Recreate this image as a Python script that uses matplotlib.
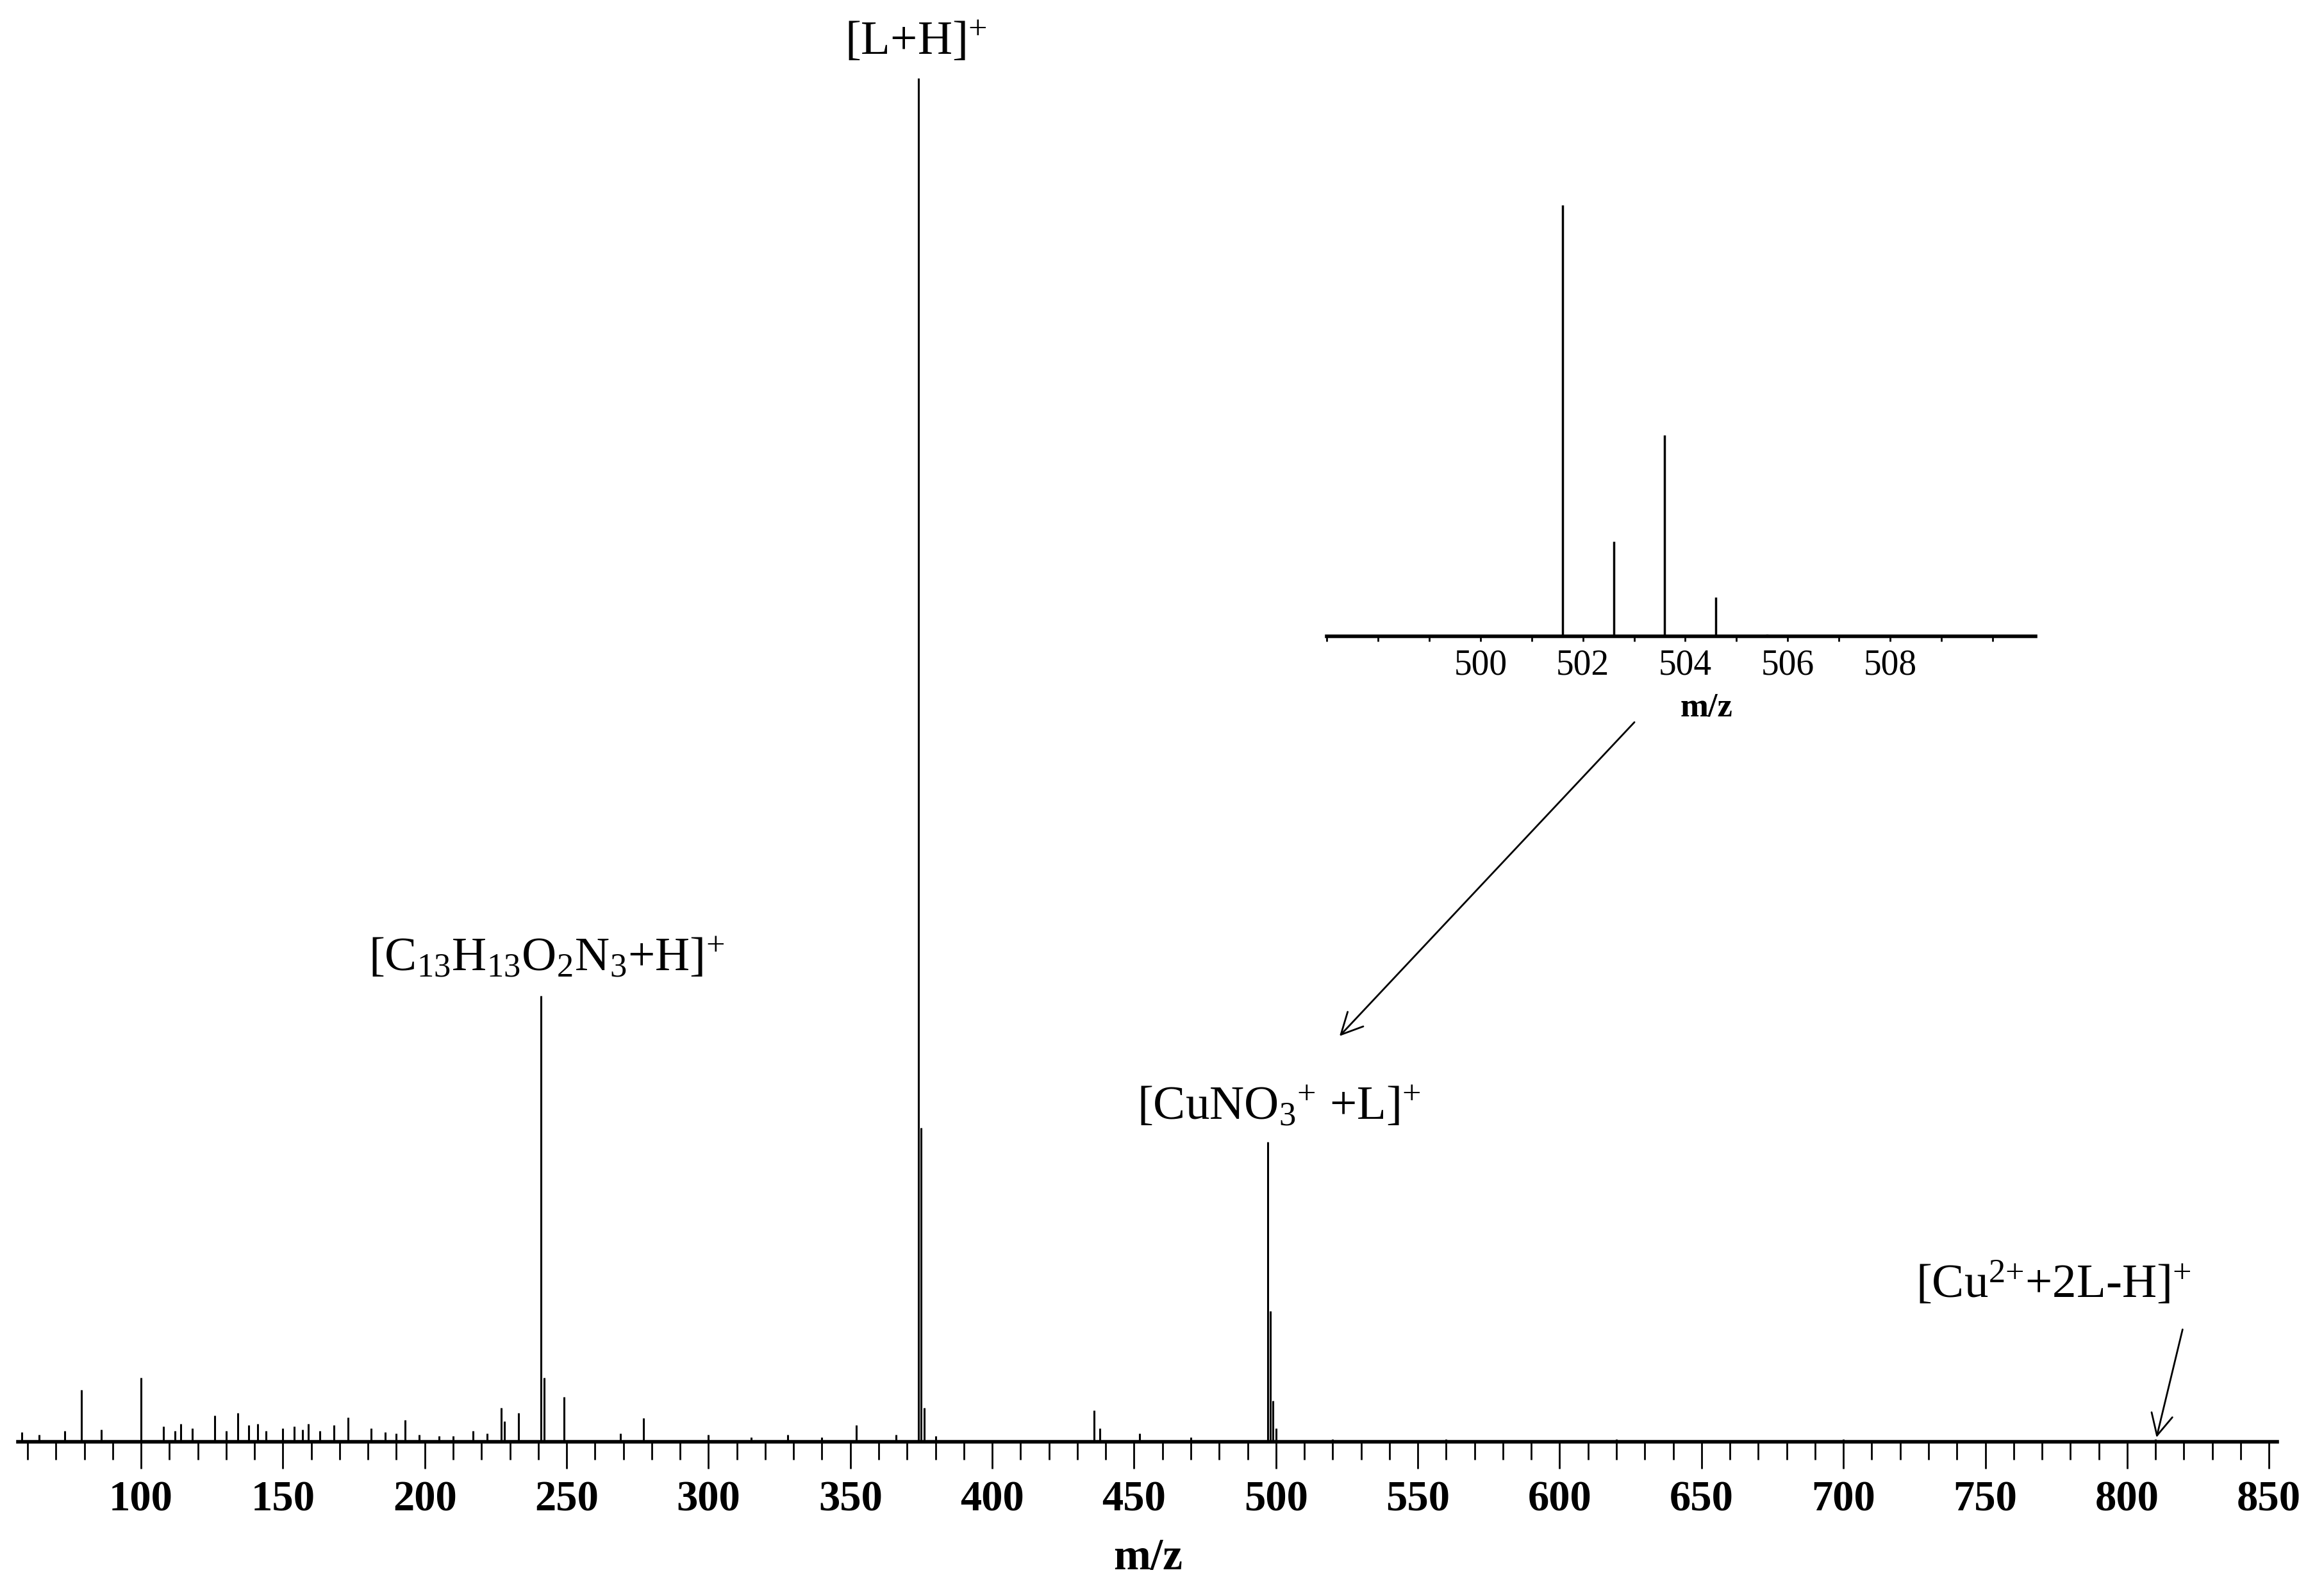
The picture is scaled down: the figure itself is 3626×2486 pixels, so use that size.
import matplotlib
matplotlib.use("Agg")
import matplotlib.pyplot as plt
from matplotlib.ticker import MultipleLocator

plt.rcParams["font.family"] = "Liberation Serif"
plt.rcParams["mathtext.fontset"] = "custom"
plt.rcParams["mathtext.rm"] = "Liberation Serif"
plt.rcParams["mathtext.it"] = "Liberation Serif"
plt.rcParams["mathtext.bf"] = "Liberation Serif:bold"

# main spectrum (m/z, relative intensity)
mz = [58, 64, 73, 79, 86, 100, 108, 112, 114, 118, 126, 130, 134, 138, 141, 144, 150, 154,
      157, 159, 163, 168, 173, 181, 186, 190, 193, 198, 205, 210, 217, 222, 227, 228, 233,
      241, 242, 249, 269, 277, 300, 315, 328, 340, 352, 366, 374, 375, 376, 380, 436, 438,
      452, 470, 497, 498, 499, 500, 520, 560, 620, 700, 810]
inten = [0.007, 0.005, 0.008, 0.038, 0.009, 0.047, 0.011, 0.008, 0.013, 0.010, 0.019, 0.008,
         0.021, 0.012, 0.013, 0.008, 0.010, 0.011, 0.009, 0.013, 0.008, 0.012, 0.018, 0.010,
         0.007, 0.006, 0.016, 0.005, 0.004, 0.004, 0.008, 0.006, 0.025, 0.015, 0.021,
         0.327, 0.047, 0.033, 0.006, 0.0175, 0.005, 0.003, 0.005, 0.003, 0.012, 0.005, 1.0,
         0.23, 0.025, 0.004, 0.023, 0.010, 0.006, 0.003, 0.22, 0.096, 0.03, 0.01, 0.002,
         0.002, 0.002, 0.002, 0.002]

# inset: isotope pattern
mz_in = [501.6, 502.6, 503.6, 504.6, 505.6]
int_in = [1.0, 0.22, 0.466, 0.09, 0.004]

fig = plt.figure(figsize=(36.26, 24.86), dpi=100)
ax = fig.add_axes([0.0077, 0.095, 0.9723, 0.856])
ax.vlines(mz, 0, inten, color="black", linewidth=2.2)
ax.set_xlim(56.6, 853)
ax.set_ylim(0, 1.0)
for s in ["top", "right", "left"]:
    ax.spines[s].set_visible(False)
ax.spines["bottom"].set_linewidth(4)
ax.set_yticks([])
ax.xaxis.set_major_locator(MultipleLocator(50))
ax.xaxis.set_minor_locator(MultipleLocator(10))
ax.tick_params(axis="x", which="major", direction="out", length=30, width=2, pad=14,
               labelsize=48)
ax.tick_params(axis="x", which="minor", direction="out", length=20, width=2)
ax.set_xticks(range(100, 851, 50))
for lab in ax.get_xticklabels():
    lab.set_fontweight("bold")
ax.set_xlabel("m/z", fontsize=50, fontweight="bold", labelpad=20)

fs = 54
ax.text(373, 1.01, r"[L+H]$^{+}$", ha="center", va="bottom", fontsize=fs, clip_on=False)
ax.text(243, 0.338, r"[C$_{13}$H$_{13}$O$_{2}$N$_{3}$+H]$^{+}$", ha="center", va="bottom",
        fontsize=fs)
ax.text(501, 0.229, r"[CuNO$_{3}$$^{+}$ +L]$^{+}$", ha="center", va="bottom", fontsize=fs)
ax.text(774, 0.098, r"[Cu$^{2{+}}$+2L-H]$^{+}$", ha="center", va="bottom", fontsize=fs)

# arrows
fig.add_artist(matplotlib.patches.FancyArrowPatch(
    (2552 / 3626, 1 - 1125 / 2486), (2088 / 3626, 1 - 1619 / 2486),
    transform=fig.transFigure, arrowstyle="->", mutation_scale=60, linewidth=2, color="black"))
fig.add_artist(matplotlib.patches.FancyArrowPatch(
    (3406 / 3626, 1 - 2072 / 2486), (3364 / 3626, 1 - 2246 / 2486),
    transform=fig.transFigure, arrowstyle="->", mutation_scale=60, linewidth=2, color="black"))

# inset
axi = fig.add_axes([0.571, 0.6006, 0.305, 0.2707])
axi.vlines(mz_in, 0, int_in, color="black", linewidth=2.5)
axi.set_xlim(497, 510.85)
axi.set_ylim(0, 1.0)
for s in ["top", "right", "left"]:
    axi.spines[s].set_visible(False)
axi.spines["bottom"].set_linewidth(4)
axi.set_yticks([])
axi.set_xticks([500, 502, 504, 506, 508])
axi.xaxis.set_minor_locator(MultipleLocator(1))
axi.tick_params(axis="x", which="both", direction="out", length=6, width=2, pad=8,
                labelsize=40)
axi.set_xlabel("m/z", fontsize=38, fontweight="bold", labelpad=2)
axi.xaxis.set_label_coords(0.535, -0.13)
axi.patch.set_alpha(0)

fig.savefig("out.png", dpi=100)
